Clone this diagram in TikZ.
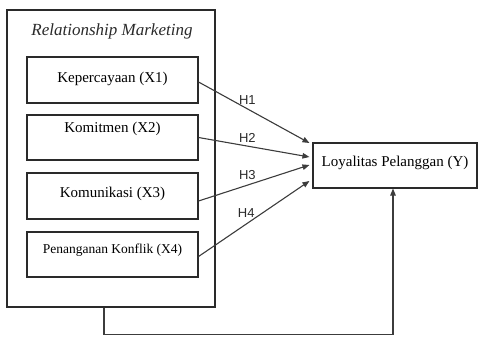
\documentclass[tikz,border=0pt]{standalone}
\usepackage{fontspec}
\setmainfont{Liberation Serif}
\newfontfamily\hypfont{Liberation Sans}
\usetikzlibrary{arrows.meta}
\definecolor{ink}{HTML}{2A2A2A}
\definecolor{wire}{HTML}{3C3C3C}

\begin{document}
\begin{tikzpicture}[x=1pt,y=-1pt,>={Triangle[length=7pt,width=5.5pt]},
  frame/.style={draw=ink,line width=1.1pt,minimum width=208pt,
    minimum height=297pt,inner sep=0pt},
  factor/.style={draw=ink,line width=1.1pt,minimum width=171pt,inner sep=0pt,
    font=\fontsize{15}{18}\selectfont},
  outcome/.style={draw=ink,line width=1.1pt,minimum width=164pt,inner sep=0pt,
    text height=24pt,text depth=21pt,font=\fontsize{15}{18}\selectfont},
  link/.style={->,wire,line width=1.1pt},
  hyp/.style={text=ink,font=\hypfont\fontsize{13}{15}\selectfont}]
  \useasboundingbox (0,0) rectangle (480,337);

  \node[frame] (rm) at (111,158.5) {};
  \node[font=\itshape\fontsize{17}{20}\selectfont,text=ink] (ttl) at (112,31)
    {Relationship Marketing};

  \node[factor,text height=26pt,text depth=20pt] (x1) at (112.5,80)
    {Kepercayaan (X1)};
  \node[factor,text height=18pt,text depth=27pt] (x2) at (112.5,137.5)
    {Komitmen (X2)};
  \node[factor,text height=24pt,text depth=22pt] (x3) at (112.5,196)
    {Komunikasi (X3)};
  \node[factor,text height=21pt,text depth=24pt,
    font=\fontsize{13.5}{16}\selectfont] (x4) at (112.5,254.5)
    {Penanganan Konflik (X4)};

  \node[outcome] (y) at (395,165.5) {Loyalitas Pelanggan (Y)};

  % hypotheses
  \draw[link] ([yshift=-2pt]x1.east) -- ([xshift=-3pt,yshift=22.5pt]y.west)
    node[hyp,pos=.44,above=0pt] {H1};
  \draw[link] (x2.east) -- ([xshift=-3pt,yshift=8.5pt]y.west)
    node[hyp,pos=.44,above=0pt] {H2};
  \draw[link] ([yshift=-5pt]x3.east) -- ([xshift=-3pt,yshift=0.5pt]y.west)
    node[hyp,pos=.44,above=2pt] {H3};
  \draw[link] ([yshift=-2pt]x4.east) -- ([xshift=-3pt,yshift=-15.5pt]y.west)
    node[hyp,pos=.43,above=3pt] {H4};

  \draw[link] ([xshift=-7pt]rm.south) -- ++(0,27) -| ([xshift=-2pt]y.south);
\end{tikzpicture}
\end{document}
